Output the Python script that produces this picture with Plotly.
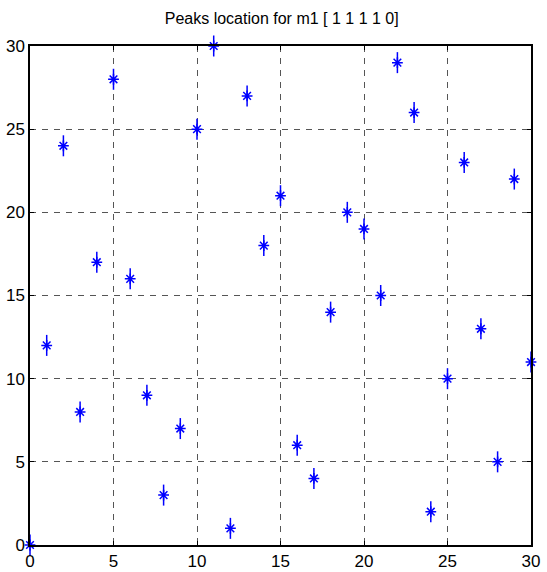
import plotly.graph_objects as go

x_vals = list(range(0, 31))
y_vals = [0, 12, 24, 8, 17, 28, 16, 9, 3, 7, 25, 30, 1, 27, 18, 21, 6, 4, 14, 20,
          19, 15, 29, 26, 2, 10, 23, 13, 5, 22, 11]
tick_vals = [0, 5, 10, 15, 20, 25, 30]
title_text = "Peaks location for m1 [ 1 1 1 1 0]"

fig = go.Figure()
fig.add_trace(go.Scatter(
    x=x_vals, y=y_vals, mode="markers", cliponaxis=False,
    marker=dict(symbol="asterisk-open", size=9, color="blue",
                line=dict(color="blue", width=1.5)),
    showlegend=False, hoverinfo="skip",
))
fig.add_trace(go.Scatter(
    x=x_vals, y=y_vals, mode="markers", cliponaxis=False,
    marker=dict(symbol="line-ns-open", size=15, color="blue",
                line=dict(color="blue", width=1.5)),
    showlegend=False,
))

axis_common = dict(
    range=[0, 30], tickvals=tick_vals, ticks="inside", ticklen=4,
    tickcolor="black", showline=True, linecolor="black", linewidth=1.5,
    mirror="ticks", showgrid=True, gridcolor="#555555", griddash="6px,6px",
    gridwidth=1, zeroline=False, automargin=False,
    tickfont=dict(family="Liberation Sans Narrow, Arial Narrow, sans-serif",
                  size=17, color="black"),
)
fig.update_xaxes(**axis_common)
fig.update_yaxes(**axis_common)

fig.update_layout(
    width=547, height=572,
    margin=dict(l=30, r=16, t=46, b=27),
    paper_bgcolor="white", plot_bgcolor="white",
    title=dict(text=title_text, x=0.515, xanchor="center", y=0.968, yanchor="middle",
               font=dict(family="Liberation Sans Narrow, Arial Narrow, sans-serif",
                         size=16, color="black")),
)

fig.write_html("out.html")
